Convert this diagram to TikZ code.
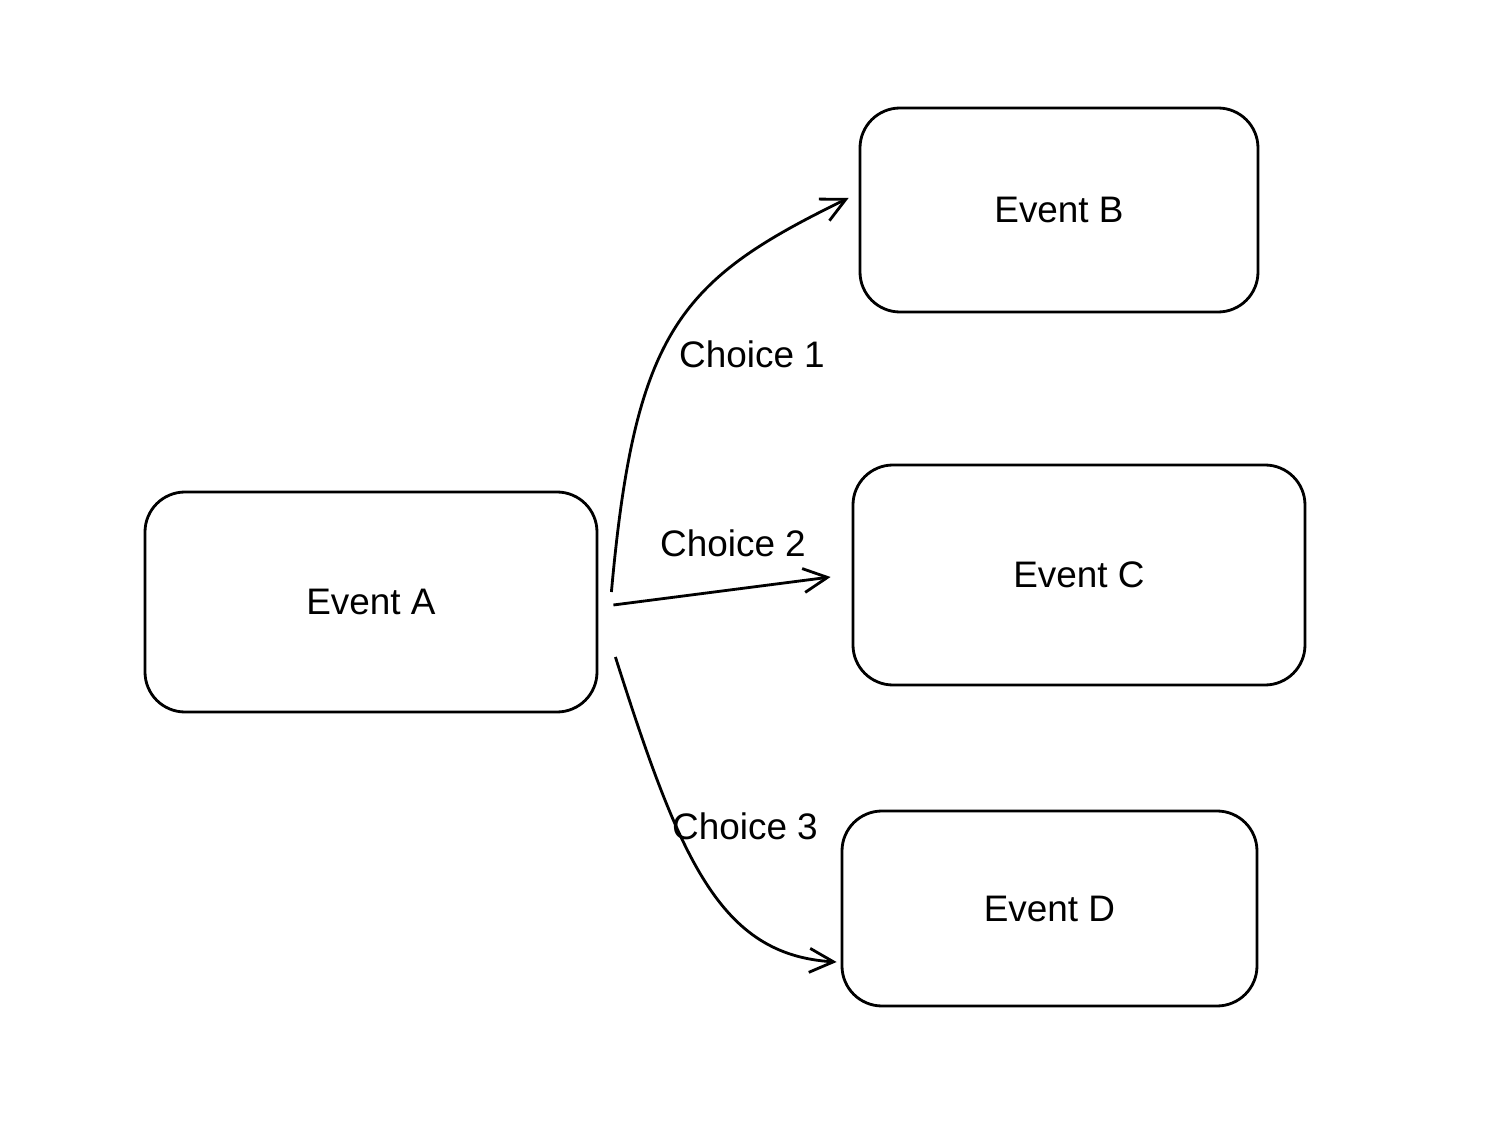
\documentclass[tikz,border=0pt]{standalone}
\usepackage{fontspec}
\setmainfont{Liberation Sans}
\usepackage{tikz}
\usetikzlibrary{arrows.meta, positioning}

\begin{document}
\begin{tikzpicture}[
    event/.style={draw, line width=0.8pt, rounded corners=0.4cm, inner sep=0pt,
                  font=\fontsize{10.5}{12}\selectfont},
    choice/.style={line width=0.8pt, -{Straight Barb[length=2.4mm,width=2.4mm]}},
    label/.style={font=\fontsize{10.5}{12}\selectfont}
]
            \useasboundingbox (0,0) rectangle (15,-11.29);

            % Events
            \node[event, minimum width=4.52cm, minimum height=2.20cm] (a) at (3.71,-6.02) {Event A};
            \node[event, minimum width=3.98cm, minimum height=2.04cm] (b) at (10.59,-2.10) {Event B};
            \node[event, minimum width=4.52cm, minimum height=2.20cm] (c) at (10.79,-5.75) {Event C};
            \node[event, minimum width=4.15cm, minimum height=1.95cm] (d) at (10.495,-9.085) {Event D};

            % Choices
            \draw[choice] ([xshift=0.13cm,yshift=0.10cm]a.east)
                .. controls (6.35,-3.30) and (6.80,-2.80) .. ([xshift=-0.10cm,yshift=0.12cm]b.west);
            \node[label] (c1) at (7.52,-3.54) {Choice 1};

            \draw[choice] ([xshift=0.15cm,yshift=-0.03cm]a.east) -- ([xshift=-0.21cm,yshift=-0.02cm]c.west);
            \node[label] (c2) at (7.33,-5.43) {Choice 2};

            \draw[choice] ([xshift=0.17cm,yshift=-0.55cm]a.east)
                .. controls (6.80,-8.60) and (7.20,-9.55) .. ([xshift=-0.04cm,yshift=-0.535cm]d.west);
            \node[label] (c3) at (7.45,-8.26) {Choice 3};
\end{tikzpicture}
\end{document}
